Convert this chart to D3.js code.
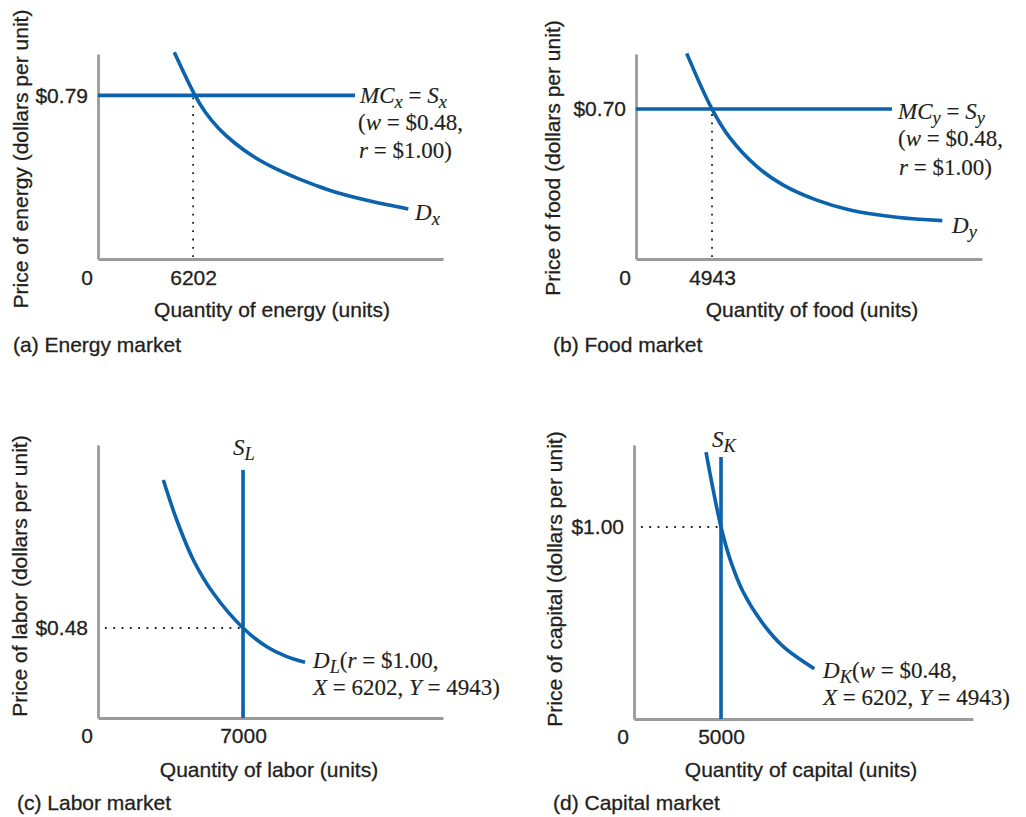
<!DOCTYPE html>
<html>
<head>
<meta charset="utf-8">
<script src="https://cdn.jsdelivr.net/npm/d3@7"></script>
<style>
  html, body { margin: 0; padding: 0; background: #fff; }
  svg { display: block; }
  .sans { font-family: "Liberation Sans", Arial, Helvetica, sans-serif; fill: #231f20; stroke: #231f20; stroke-width: 0.3px; }
  .serif { font-family: "Liberation Serif", "Times New Roman", serif; fill: #231f20; stroke: #231f20; stroke-width: 0.15px; }
</style>
</head>
<body>
<svg id="chart" width="1026" height="817"></svg>
<script>
// ---------------- DATA ----------------
// (a) Energy market
const energyDemandQ = [4976, 6326, 6978, 7846, 8935, 10239, 11759, 13063, 14152, 15346, 17524, 20237];
const energyDemandP = [0.998, 0.79, 0.711, 0.633, 0.559, 0.490, 0.430, 0.388, 0.357, 0.326, 0.2835, 0.2415];
const energySupplyQ = [0, 16760];
const energySupplyP = [0.79, 0.79];
const energyEq = { q: 6202, p: 0.79 };
const energyDomain = { qMax: 22500, pMax: 0.99 };

// (b) Food market
const foodDemandQ = [3297, 4943, 6113, 7849, 9579, 11751, 13916, 16953, 19919];
const foodDemandP = [0.960, 0.70, 0.565, 0.432, 0.345, 0.275, 0.229, 0.195, 0.179];
const foodSupplyQ = [0, 16650];
const foodSupplyP = [0.70, 0.70];
const foodEq = { q: 4943, p: 0.70 };
const foodDomain = { qMax: 22500, pMax: 0.957 };

// (c) Labor market
const laborDemandQ = [3153, 3800, 4601, 5567, 7000, 8145, 9111, 9994];
const laborDemandP = [1.269, 1.056, 0.843, 0.665, 0.48, 0.38, 0.327, 0.297];
const laborSupplyQ = [7000, 7000];
const laborSupplyP = [0, 1.323];
const laborEq = { q: 7000, p: 0.48 };
const laborDomain = { qMax: 16650, pMax: 1.456 };

// (d) Capital market
const capitalDemandQ = [4138, 4557, 5000, 5517, 6282, 7431, 8580, 10362];
const capitalDemandP = [1.39, 1.19, 1.0, 0.833, 0.66, 0.494, 0.377, 0.262];
const capitalSupplyQ = [5000, 5000];
const capitalSupplyP = [0, 1.365];
const capitalEq = { q: 5000, p: 1.00 };
const capitalDomain = { qMax: 19480, pMax: 1.427 };

// Text
const xTitles = ["Quantity of energy (units)", "Quantity of food (units)", "Quantity of labor (units)", "Quantity of capital (units)"];
const yTitles = ["Price of energy (dollars per unit)", "Price of food (dollars per unit)", "Price of labor (dollars per unit)", "Price of capital (dollars per unit)"];
const captions = ["(a) Energy market", "(b) Food market", "(c) Labor market", "(d) Capital market"];

// ---------------- LAYOUT / STYLE ----------------
const BLUE = "#0b62ad";
const GRAY = "#9b9b9b";
const SANS_SIZE = 21;
const SERIF_SIZE = 23;

const panels = [
  { box: { l: 98, r: 443, t: 54, b: 259 }, dom: energyDomain, eq: energyEq,
    dQ: energyDemandQ, dP: energyDemandP, sQ: energySupplyQ, sP: energySupplyP,
    dotted: "vertical", tickPad: 11,
    yTitle: { x: 28, y: 159 }, xTitle: { x: 272, y: 317 }, caption: { x: 13, y: 352 } },
  { box: { l: 636, r: 982, t: 54, b: 259 }, dom: foodDomain, eq: foodEq,
    dQ: foodDemandQ, dP: foodDemandP, sQ: foodSupplyQ, sP: foodSupplyP,
    dotted: "vertical", tickPad: 11,
    yTitle: { x: 560, y: 158 }, xTitle: { x: 812, y: 317 }, caption: { x: 553, y: 352 } },
  { box: { l: 98, r: 443, t: 445, b: 718 }, dom: laborDomain, eq: laborEq,
    dQ: laborDemandQ, dP: laborDemandP, sQ: laborSupplyQ, sP: laborSupplyP,
    dotted: "horizontal", tickPad: 10,
    yTitle: { x: 27, y: 576 }, xTitle: { x: 269, y: 777 }, caption: { x: 17, y: 810 } },
  { box: { l: 634, r: 973, t: 445, b: 719 }, dom: capitalDomain, eq: capitalEq,
    dQ: capitalDemandQ, dP: capitalDemandP, sQ: capitalSupplyQ, sP: capitalSupplyP,
    dotted: "horizontal", tickPad: 10,
    yTitle: { x: 562, y: 579 }, xTitle: { x: 801, y: 777 }, caption: { x: 553, y: 810 } }
];

const svg = d3.select("#chart");
const fmtPrice = d => "$" + d3.format(".2f")(d);

panels.forEach((p, i) => {
  const x = d3.scaleLinear().domain([0, p.dom.qMax]).range([p.box.l, p.box.r]);
  const y = d3.scaleLinear().domain([0, p.dom.pMax]).range([p.box.b, p.box.t]);
  const g = svg.append("g");

  // Axes
  const xAxis = d3.axisBottom(x).tickValues([p.eq.q]).tickFormat(d3.format("d"))
    .tickSize(0).tickSizeOuter(0).tickPadding(p.tickPad);
  const yAxis = d3.axisLeft(y).tickValues([p.eq.p]).tickFormat(fmtPrice)
    .tickSize(0).tickSizeOuter(0).tickPadding(10);

  const gx = g.append("g").attr("transform", `translate(0,${p.box.b})`).call(xAxis);
  const gy = g.append("g").attr("transform", `translate(${p.box.l},0)`).call(yAxis);
  [gx, gy].forEach(a => {
    a.select(".domain").attr("stroke", GRAY).attr("stroke-width", 2.8);
    a.selectAll(".tick line").remove();
    a.selectAll("text").attr("class", "sans").attr("font-size", SANS_SIZE)
      .attr("fill", "#231f20");
    a.attr("font-family", null).attr("font-size", null);
  });
  // Origin "0"
  g.append("text").attr("class", "sans").attr("font-size", SANS_SIZE)
    .attr("text-anchor", "middle")
    .attr("x", x(0) - 11).attr("y", p.box.b + p.tickPad).attr("dy", "0.71em")
    .text("0");

  // Dotted guide
  const guide = g.append("line");
  if (p.dotted === "vertical") {
    guide.attr("x1", x(p.eq.q)).attr("x2", x(p.eq.q))
      .attr("y1", y(0) - 2).attr("y2", y(p.eq.p));
  } else {
    guide.attr("x1", x(0) + 7).attr("x2", x(p.eq.q))
      .attr("y1", y(p.eq.p)).attr("y2", y(p.eq.p));
  }
  guide.attr("stroke", "#231f20").attr("stroke-width", 1.8)
    .attr("stroke-dasharray", "1.8,6.5");

  // Supply line
  const sData = p.sQ.map((q, k) => [q, p.sP[k]]);
  g.append("path").datum(sData)
    .attr("d", d3.line().x(d => x(d[0])).y(d => y(d[1])))
    .attr("fill", "none").attr("stroke", BLUE).attr("stroke-width", 3.6);

  // Demand curve
  const dData = p.dQ.map((q, k) => [q, p.dP[k]]);
  g.append("path").datum(dData)
    .attr("d", d3.line().x(d => x(d[0])).y(d => y(d[1])).curve(d3.curveCatmullRom.alpha(0.5)))
    .attr("fill", "none").attr("stroke", BLUE).attr("stroke-width", 3.6);

  // Axis titles
  g.append("text").attr("class", "sans").attr("font-size", SANS_SIZE)
    .attr("text-anchor", "middle")
    .attr("transform", `translate(${p.yTitle.x},${p.yTitle.y}) rotate(-90)`)
    .text(yTitles[i]);
  g.append("text").attr("class", "sans").attr("font-size", SANS_SIZE)
    .attr("text-anchor", "middle").attr("x", p.xTitle.x).attr("y", p.xTitle.y)
    .text(xTitles[i]);
  g.append("text").attr("class", "sans").attr("font-size", SANS_SIZE)
    .attr("x", p.caption.x).attr("y", p.caption.y).text(captions[i]);
});

// ---------------- Serif curve labels ----------------
function richText(x0, y0, parts) {
  const t = svg.append("text").attr("class", "serif").attr("font-size", SERIF_SIZE)
    .attr("x", x0).attr("y", y0);
  let shift = 0;
  parts.forEach(([str, style]) => {
    const ts = t.append("tspan").text(str);
    if (style.includes("i")) ts.attr("font-style", "italic");
    if (style.includes("s")) {
      ts.attr("font-size", SERIF_SIZE * 0.8).attr("dy", 5 - shift); shift = 5;
    } else {
      ts.attr("dy", 0 - shift); shift = 0;
    }
  });
  t.style("white-space", "pre");
  return t;
}

// (a)
richText(360, 103, [["MC", "i"], ["x", "is"], [" = ", ""], ["S", "i"], ["x", "is"]]);
richText(358, 130, [["(", ""], ["w", "i"], [" = $0.48,", ""]]);
richText(359, 158, [["r", "i"], [" = $1.00)", ""]]);
richText(415, 220, [["D", "i"], ["x", "is"]]);
// (b)
richText(898, 119, [["MC", "i"], ["y", "is"], [" = ", ""], ["S", "i"], ["y", "is"]]);
richText(898, 146, [["(", ""], ["w", "i"], [" = $0.48,", ""]]);
richText(899, 175, [["r", "i"], [" = $1.00)", ""]]);
richText(952, 233, [["D", "i"], ["y", "is"]]);
// (c)
richText(233, 455, [["S", "i"], ["L", "is"]]);
richText(313, 668, [["D", "i"], ["L", "is"], ["(", ""], ["r", "i"], [" = $1.00,", ""]]);
richText(313, 695, [["X", "i"], [" = 6202, ", ""], ["Y", "i"], [" = 4943)", ""]]);
// (d)
richText(712, 447, [["S", "i"], ["K", "is"]]);
richText(823, 678, [["D", "i"], ["K", "is"], ["(", ""], ["w", "i"], [" = $0.48,", ""]]);
richText(823, 705, [["X", "i"], [" = 6202, ", ""], ["Y", "i"], [" = 4943)", ""]]);
</script>
</body>
</html>
